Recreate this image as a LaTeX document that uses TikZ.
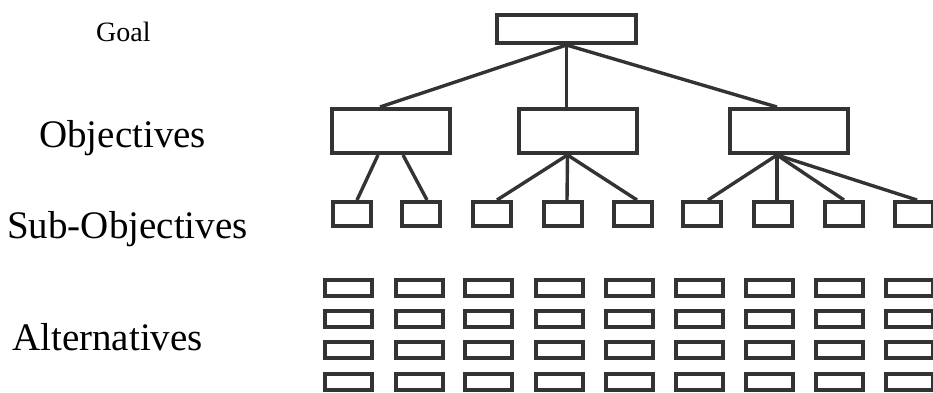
\documentclass[tikz,border=0pt]{standalone}
\usepackage{fontspec}
\setmainfont{Liberation Serif}
\usepackage{tikz}
\usetikzlibrary{positioning}

\begin{document}
\begin{tikzpicture}[x=1pt,y=-1pt,
  box/.style={draw=black!80,line width=4pt,fill=white,inner sep=0pt},
  goalbox/.style={box,minimum width=139pt,minimum height=28pt},
  objbox/.style={box,minimum width=118pt,minimum height=44pt},
  subbox/.style={box,minimum width=38pt,minimum height=24pt},
  altbox/.style={box,minimum width=47pt,minimum height=16pt},
  link/.style={draw=black!80,line width=3.4pt},
  level/.style={anchor=base west,inner sep=0pt,font=\fontsize{39}{44}\selectfont}]
  \useasboundingbox (0,0) rectangle (933,392);
  \node[level,font=\fontsize{28}{31}\selectfont] (goallabel) at (96,41) {Goal};
  \node[level] (objlabel) at (39,147) {Objectives};
  \node[level] (sublabel) at (7,238) {Sub-Objectives};
  \node[level] (altlabel) at (12,350) {Alternatives};
   \node[goalbox] (goal) at (566.5,29) {};
    \node[objbox] (obj1) at (391,131) {};
    \node[objbox] (obj2) at (577.5,131) {};
    \node[objbox] (obj3) at (789,131) {};
    \node[subbox] (sub1) at (352,214) {};
    \node[subbox] (sub2) at (421,214) {};
    \node[subbox] (sub3) at (492,214) {};
    \node[subbox] (sub4) at (563,214) {};
    \node[subbox] (sub5) at (633,214) {};
    \node[subbox] (sub6) at (702,214) {};
    \node[subbox] (sub7) at (773,214) {};
    \node[subbox] (sub8) at (844,214) {};
    \node[subbox] (sub9) at (914,214) {};
    \node[altbox] (a11) at (348,288) {};
    \node[altbox] (a21) at (419,288) {};
    \node[altbox] (a31) at (488,288) {};
    \node[altbox] (a41) at (559,288) {};
    \node[altbox] (a51) at (629,288) {};
    \node[altbox] (a61) at (699,288) {};
    \node[altbox] (a71) at (769,288) {};
    \node[altbox] (a81) at (839,288) {};
    \node[altbox] (a91) at (909,288) {};
    \node[altbox] (a12) at (348,318.5) {};
    \node[altbox] (a22) at (419,318.5) {};
    \node[altbox] (a32) at (488,318.5) {};
    \node[altbox] (a42) at (559,318.5) {};
    \node[altbox] (a52) at (629,318.5) {};
    \node[altbox] (a62) at (699,318.5) {};
    \node[altbox] (a72) at (769,318.5) {};
    \node[altbox] (a82) at (839,318.5) {};
    \node[altbox] (a92) at (909,318.5) {};
    \node[altbox] (a13) at (348,349.5) {};
    \node[altbox] (a23) at (419,349.5) {};
    \node[altbox] (a33) at (488,349.5) {};
    \node[altbox] (a43) at (559,349.5) {};
    \node[altbox] (a53) at (629,349.5) {};
    \node[altbox] (a63) at (699,349.5) {};
    \node[altbox] (a73) at (769,349.5) {};
    \node[altbox] (a83) at (839,349.5) {};
    \node[altbox] (a93) at (909,349.5) {};
    \node[altbox] (a14) at (348,381.5) {};
    \node[altbox] (a24) at (419,381.5) {};
    \node[altbox] (a34) at (488,381.5) {};
    \node[altbox] (a44) at (559,381.5) {};
    \node[altbox] (a54) at (629,381.5) {};
    \node[altbox] (a64) at (699,381.5) {};
    \node[altbox] (a74) at (769,381.5) {};
    \node[altbox] (a84) at (839,381.5) {};
    \node[altbox] (a94) at (909,381.5) {};
    \path[link] (goal.south) edge ([xshift=-11pt]obj1.north);
    \path[link] (goal.south) edge (goal.south |- obj2.north);
    \path[link] (goal.south) edge ([xshift=-12pt]obj3.north);
    \path[link] ([xshift=-13pt]obj1.south) edge ([xshift=5pt]sub1.north);
    \path[link] ([xshift=12pt]obj1.south) edge ([xshift=6pt]sub2.north);
    \path[link] ([xshift=-10pt]obj2.south) edge ([xshift=5pt]sub3.north);
    \path[link] ([xshift=-10pt]obj2.south) edge ([xshift=4pt]sub4.north);
    \path[link] ([xshift=-10pt]obj2.south) edge ([xshift=4pt]sub5.north);
    \path[link] ([xshift=-12pt]obj3.south) edge ([xshift=6pt]sub6.north);
    \path[link] ([xshift=-12pt]obj3.south) edge ([xshift=4pt]sub7.north);
    \path[link] ([xshift=-12pt]obj3.south) edge (sub8.north);
    \path[link] ([xshift=-12pt]obj3.south) edge ([xshift=3pt]sub9.north);
 \end{tikzpicture}
\end{document}
